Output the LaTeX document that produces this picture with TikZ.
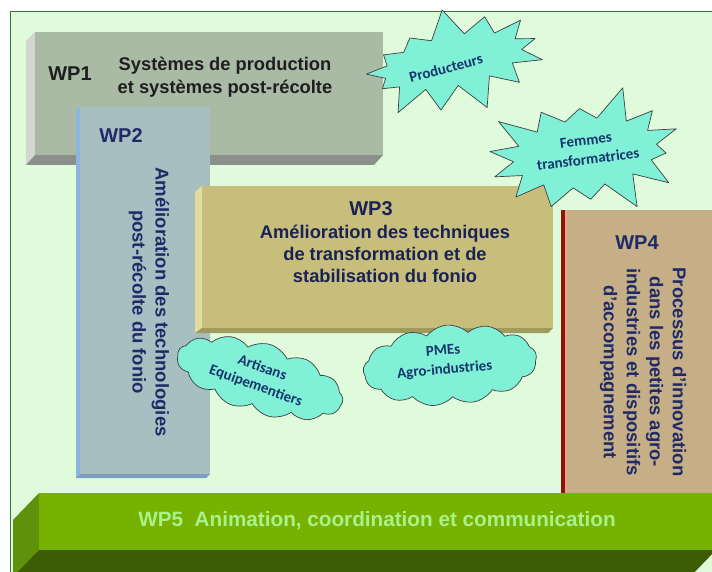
\documentclass[tikz,border=0pt]{standalone}
\usepackage{fontspec}
\setmainfont{Liberation Sans}
\newfontfamily\carlito{Carlito}
\usetikzlibrary{shapes.symbols}

\definecolor{fond}{RGB}{224,250,220}
\definecolor{cadre}{RGB}{46,125,50}
\definecolor{marine}{RGB}{31,42,102}
\definecolor{encre}{RGB}{30,30,30}
\definecolor{aqua}{RGB}{128,240,214}
\definecolor{bulletexte}{RGB}{23,54,110}
% faces, flancs et dessous des blocs
\definecolor{wpun}{RGB}{169,187,165}
\definecolor{wpunflanc}{RGB}{211,215,208}
\definecolor{wpunbas}{RGB}{140,144,138}
\definecolor{wpdeux}{RGB}{167,191,193}
\definecolor{wpdeuxflanc}{RGB}{140,180,224}
\definecolor{wpdeuxbas}{RGB}{125,158,195}
\definecolor{wptrois}{RGB}{200,190,124}
\definecolor{wptroisflanc}{RGB}{226,221,156}
\definecolor{wptroisbas}{RGB}{160,155,92}
\definecolor{wpquatre}{RGB}{198,175,134}
\definecolor{liseret}{RGB}{140,20,8}
\definecolor{liseretclair}{RGB}{240,160,140}
\definecolor{wpcinq}{RGB}{120,178,0}
\definecolor{wpcinqflanc}{RGB}{96,145,10}
\definecolor{wpcinqbas}{RGB}{62,92,4}
\definecolor{wpcinqtexte}{RGB}{168,242,140}

\begin{document}
\begin{tikzpicture}[x=1pt,y=-1pt,line join=round,
    face/.style={anchor=north west,inner sep=0pt},
    titre/.style={font=\bfseries\fontsize{20}{24}\selectfont},
    corps/.style={font=\bfseries\fontsize{18.5}{23}\selectfont,align=center},
    bulle/.style={draw=black!75,fill=aqua,line width=0.7pt,inner sep=0pt},
    nuage/.style={bulle,cloud,cloud puffs=13,cloud puff arc=95,cloud ignores aspect},
    bulletxt/.style={align=center,text=bulletexte,font=\carlito\bfseries\fontsize{15}{19}\selectfont}]
    \useasboundingbox (0,0) rectangle (712,572);
    \fill[white] (0,0) rectangle (712,572);
    \filldraw[fill=fond,draw=cadre,line width=0.8pt] (10,11) rectangle (730,590);

    % WP1
    \fill[wpunflanc] (35,32) -- (26,41) -- (26,165) -- (35,155) -- cycle;
    \fill[wpunbas] (26,165) -- (374,165) -- (383,155) -- (35,155) -- cycle;
    \node[face,fill=wpun,minimum width=348pt,minimum height=123pt] (wp1) at (35,32) {};
    \node[titre,text=encre] (wp1titre) at (70,74) {WP1};
    \node[corps,text=encre,font=\bfseries\fontsize{18.3}{23}\selectfont] (wp1corps) at (225,77)
        {Systèmes de production\\et systèmes post-récolte};

    % WP2
    \fill[wpdeuxflanc] (80,107) -- (76,111) -- (76,478) -- (80,474) -- cycle;
    \fill[wpdeuxbas] (76,478) -- (206,478) -- (210,474) -- (80,474) -- cycle;
    \node[face,fill=wpdeux,minimum width=130pt,minimum height=367pt] (wp2) at (80,107) {};
    \node[titre,text=marine] (wp2titre) at (121,136) {WP2};
    \node[corps,text=marine,rotate=-90] (wp2corps) at (149,302)
        {Amélioration des technologies\\post-récolte du fonio};

    % WP3
    \fill[wptroisflanc] (202,186) -- (195,192) -- (195,333) -- (202,328) -- cycle;
    \fill[wptroisbas] (195,333) -- (548,333) -- (553,328) -- (202,328) -- cycle;
    \node[face,fill=wptrois,minimum width=351pt,minimum height=142pt] (wp3) at (202,186) {};
    \node[titre,text=marine!80!black] (wp3titre) at (371,209) {WP3};
    \node[corps,text=marine!80!black,font=\bfseries\fontsize{18.3}{22}\selectfont] (wp3corps) at (385,254)
        {Amélioration des techniques\\de transformation et de\\stabilisation du fonio};

    % WP4
    \node[face,fill=wpquatre,minimum width=160pt,minimum height=283pt] (wp4) at (566,210) {};
    \fill[liseret] (561,210) rectangle (565,493);
    \fill[liseretclair] (565,210) rectangle (567,493);
    \node[titre,text=marine] (wp4titre) at (637,243) {WP4};
    \node[corps,text=marine,rotate=-90] (wp4corps) at (643,372)
        {Processus d'innovation\\dans les petites agro-\\industries et dispositifs\\d'accompagnement};

    % WP5
    \fill[wpcinqflanc] (39,493) -- (13,520) -- (13,580) -- (39,550) -- cycle;
    \fill[wpcinqbas] (39,550) -- (716,550) -- (687,580) -- (10,580) -- cycle;
    \node[face,fill=wpcinq,minimum width=680pt,minimum height=57pt] (wp5) at (39,493) {};
    \node[text=wpcinqtexte,font=\bfseries\fontsize{20.7}{24}\selectfont] (wp5texte) at (377,521)
        {WP5\ \ Animation, coordination et communication};

    % acteurs : etoiles et nuages
    \node[bulle,starburst,starburst points=13,starburst point height=30pt,random starburst=7,
        minimum width=200pt,minimum height=110pt,rotate=12] (producteurs) at (453,61) {};
    \node[bulletxt,rotate=15] (producteurstxt) at (446,68) {Producteurs};
    \node[bulle,starburst,starburst points=14,starburst point height=34pt,random starburst=3,
        minimum width=212pt,minimum height=136pt,rotate=7] (femmes) at (585,153) {};
    \node[bulletxt,rotate=7] (femmestxt) at (587,150) {Femmes\\transformatrices};
    \node[nuage,minimum width=172pt,minimum height=70pt,rotate=-17] (artisans) at (260,378) {};
    \node[bulletxt,rotate=-20] (artisanstxt) at (259,377) {Artisans\\Equipementiers};
    \node[nuage,minimum width=174pt,minimum height=80pt,rotate=5] (pme) at (450,365) {};
    \node[bulletxt,rotate=5] (pmetxt) at (444,361) {PMEs\\Agro-industries};
\end{tikzpicture}
\end{document}
